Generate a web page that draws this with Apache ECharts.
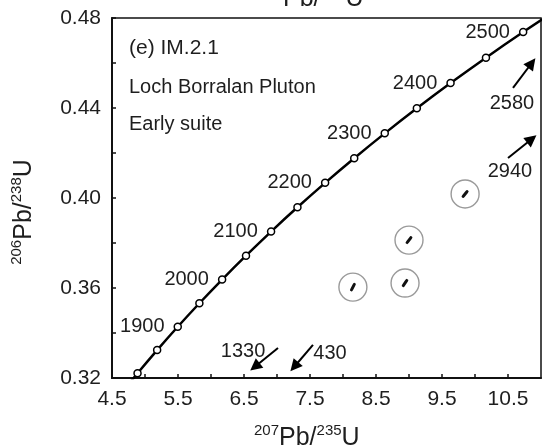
<!DOCTYPE html>
<html><head><meta charset="utf-8">
<script src="https://cdn.jsdelivr.net/npm/echarts@6/dist/echarts.min.js"></script>
<style>html,body{margin:0;padding:0;background:#fff}#c{width:542px;height:445px}</style>
</head><body><div id="c"></div>
<script>
// Concordia ages (Ma) and their positions
const concordiaAges = [1750,1800,1850,1900,1950,2000,2050,2100,2150,2200,2250,2300,2350,2400,2450,2500,2550];
const concordiaX = [4.6040,4.8869,5.1840,5.4962,5.8241,6.1685,6.5304,6.9104,7.3098,7.7292,8.1699,8.6326,9.1189,9.6296,10.1661,10.7297,11.3219];
const concordiaY = [0.31189,0.32210,0.33240,0.34277,0.35323,0.36377,0.37438,0.38509,0.39587,0.40674,0.41769,0.42873,0.43986,0.45107,0.46237,0.47375,0.48523];
const labeledAges = [1900,2000,2100,2200,2300,2400,2500];

// Analysis spots (ellipse centre, ellipse tilt in degrees)
const spotX = [9.85, 9.00, 8.94, 8.15];
const spotY = [0.4018, 0.3813, 0.3622, 0.3604];
const spotAngle = [51, 53, 56, 63];

// Arrow annotations
const arrowLabels = ['2580', '2940', '1330', '430'];
const arrowFromX = [10.576, 10.50, 7.015, 7.545];
const arrowFromY = [0.4489, 0.4178, 0.3333, 0.3347];
const arrowToX = [10.86, 10.86, 6.665, 7.262];
const arrowToY = [0.4600, 0.4262, 0.3250, 0.3250];
const arrowLabelX = [10.56, 10.53, 6.485, 7.803];
const arrowLabelY = [0.4418, 0.4116, 0.3316, 0.3307];

// Tick labels
const xTickLabels = ['4.5','5.5','6.5','7.5','8.5','9.5','10.5'];
const yTickLabels = ['0.32','0.36','0.40','0.44','0.48'];

const FONT = 'Liberation Sans, Arial, Helvetica, sans-serif';
const TXT = '#1e1e1e';

const chart = echarts.init(document.getElementById('c'), null, {renderer: 'canvas'});

const concordiaData = concordiaX.map((x, i) => [x, concordiaY[i], concordiaAges[i]]);
const spotData = spotX.map((x, i) => [x, spotY[i]]);
const spotTicks = spotX.map((x, i) => ({value: [x, spotY[i]], symbolRotate: spotAngle[i]}));
const annoData = arrowLabelX.map((x, i) => ({value: [x, arrowLabelY[i]], name: arrowLabels[i]}));
const arrowLines = arrowFromX.map((x, i) => [
  {coord: [x, arrowFromY[i]]},
  {coord: [arrowToX[i], arrowToY[i]]}
]);

const titleRich = {
  m: {fontSize: 25, lineHeight: 30, fontFamily: FONT, fill: TXT, color: TXT},
  s: {fontSize: 15, lineHeight: 15, fontFamily: FONT, verticalAlign: 'top', fill: TXT, color: TXT}
};
const axisTitle = '{s|207}{m|Pb/}{s|235}{m|U}';
const yTitle = '{s|206}{m|Pb/}{s|238}{m|U}';

const option = {
  animation: false,
  backgroundColor: '#fff',
  grid: {left: 112, right: 1, top: 18, bottom: 67, show: true, borderColor: '#111', borderWidth: 1.5, backgroundColor: 'transparent'},
  xAxis: {
    type: 'value', min: 4.5, max: 11, interval: 0.5,
    axisLine: {show: true, onZero: false, lineStyle: {color: '#111', width: 2}},
    axisTick: {show: true, inside: true, length: 4, lineStyle: {color: '#111', width: 1.5}},
    splitLine: {show: false},
    axisLabel: {
      fontSize: 21, fontFamily: FONT, color: TXT, margin: 11, showMaxLabel: false,
      formatter: v => { const s = (Math.round(v * 10) / 10).toFixed(1); return xTickLabels.includes(s) ? s : ''; }
    }
  },
  yAxis: {
    type: 'value', min: 0.32, max: 0.48, interval: 0.02,
    axisLine: {show: true, onZero: false, lineStyle: {color: '#111', width: 2}},
    axisTick: {show: true, inside: true, length: 4, lineStyle: {color: '#111', width: 1.5}},
    splitLine: {show: false},
    axisLabel: {
      fontSize: 21, fontFamily: FONT, color: TXT, margin: 11,
      formatter: v => { const s = (Math.round(v * 100) / 100).toFixed(2); return yTickLabels.includes(s) ? s : ''; }
    }
  },
  series: [
    {
      type: 'line', data: concordiaData, smooth: 0.4, clip: true,
      lineStyle: {color: '#000', width: 2.5},
      symbol: 'circle', symbolSize: 7, showAllSymbol: true,
      itemStyle: {color: '#fff', borderColor: '#000', borderWidth: 1.5},
      label: {
        show: true, position: 'left', distance: 9, fontSize: 20, fontFamily: FONT, color: TXT,
        formatter: p => labeledAges.includes(p.value[2]) ? String(p.value[2]) : ''
      },
      z: 3
    },
    {
      type: 'scatter', data: spotData, symbol: 'circle', symbolSize: 28,
      itemStyle: {color: 'transparent', borderColor: '#9a9a9a', borderWidth: 1.4, opacity: 1},
      z: 2
    },
    {
      type: 'scatter', data: spotTicks, symbol: 'roundRect', symbolSize: [9, 3],
      itemStyle: {color: '#111', opacity: 1},
      z: 4
    },
    {
      type: 'scatter', data: annoData, symbolSize: 0,
      itemStyle: {color: '#000', opacity: 1},
      label: {show: true, position: 'inside', formatter: p => p.name, fontSize: 20, fontFamily: FONT,
        color: TXT, opacity: 1, textBorderWidth: 0, textBorderColor: 'transparent'},
      markLine: {
        silent: true, animation: false,
        symbol: ['none', 'triangle'], symbolSize: 12,
        label: {show: false},
        lineStyle: {color: '#000', width: 2, type: 'solid', opacity: 1},
        data: arrowLines
      },
      z: 5
    }
  ],
  graphic: [
    {type: 'text', x: 129, y: 48, style: {text: '(e) IM.2.1', fontSize: 21, fontFamily: FONT, fill: TXT, verticalAlign: 'middle'}},
    {type: 'text', x: 129, y: 87, style: {text: 'Loch Borralan Pluton', fontSize: 20, fontFamily: FONT, fill: TXT, verticalAlign: 'middle'}},
    {type: 'text', x: 129, y: 124, style: {text: 'Early suite', fontSize: 20, fontFamily: FONT, fill: TXT, verticalAlign: 'middle'}},
    {type: 'text', x: 254, y: 453, style: {text: axisTitle, rich: titleRich, fill: TXT, verticalAlign: 'bottom'}},
    {type: 'text', x: 258, y: 14, style: {text: axisTitle, rich: titleRich, fill: TXT, verticalAlign: 'bottom'}},
    {type: 'text', x: 24, y: 212, rotation: Math.PI / 2, style: {text: yTitle, rich: titleRich, fill: TXT, align: 'center', verticalAlign: 'middle'}}
  ]
};
chart.setOption(option);
</script></body></html>
